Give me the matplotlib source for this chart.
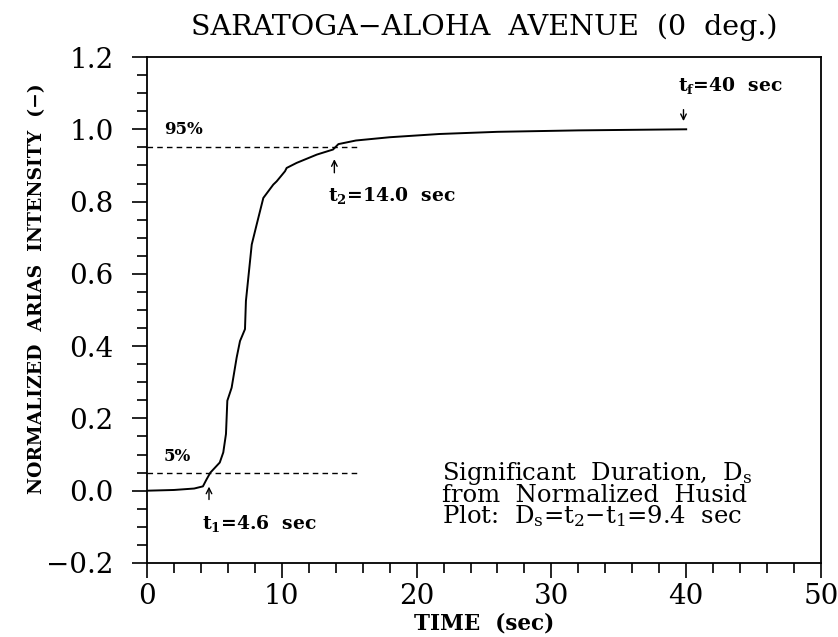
import numpy as np
import matplotlib.pyplot as plt

# normalized Husid plot
time = [0.0, 2.0, 3.5, 4.15, 4.4, 4.7, 5.0, 5.4, 5.66, 5.86, 5.96, 6.28, 6.65, 6.9,
        7.27, 7.34, 7.77, 8.14, 8.63, 9.37, 9.62, 10.24, 10.36, 11.1, 12.6, 13.8,
        14.2, 15.5, 18.0, 21.7, 26.0, 32.0, 40.0]
arias = [0.0, 0.002, 0.006, 0.012, 0.03, 0.05, 0.062, 0.078, 0.106, 0.157, 0.249,
         0.285, 0.368, 0.414, 0.447, 0.525, 0.681, 0.737, 0.810, 0.847, 0.856,
         0.884, 0.893, 0.907, 0.930, 0.944, 0.959, 0.969, 0.978, 0.987, 0.993,
         0.997, 1.0]

t1, t2, tf = 4.6, 14.0, 40.0
dash_end = 15.6

plt.rcParams["mathtext.fontset"] = "dejavuserif"
fig = plt.figure(figsize=(8.38, 6.37), dpi=100)
ax = fig.add_axes([0.1754, 0.1162, 0.8043, 0.7943])

ax.plot(time, arias, color="black", lw=1.4)
ax.plot([0, dash_end], [0.95, 0.95], color="black", lw=1, ls=(0, (4, 3)))
ax.plot([0, dash_end], [0.05, 0.05], color="black", lw=1, ls=(0, (4, 3)))

ax.set_xlim(0, 50)
ax.set_ylim(-0.2, 1.2)
ax.set_xticks(np.arange(0, 51, 10))
ax.set_xticks(np.arange(0, 51, 2), minor=True)
yt = np.arange(-0.2, 1.21, 0.2)
ax.set_yticks(yt)
ax.set_yticks(np.arange(-0.2, 1.21, 0.05), minor=True)
ax.set_yticklabels([f"{v:.1f}".replace("-", "\u2212") for v in yt])
ax.tick_params(which="both", direction="out", top=False, right=False,
               labelsize=20, width=1.2)
ax.tick_params(which="major", length=11)
ax.tick_params(which="minor", length=7)
ax.tick_params(axis="y", which="major", pad=13)
ax.tick_params(axis="x", which="major", pad=3.5)
for lab in ax.get_xticklabels() + ax.get_yticklabels():
    lab.set_family("DejaVu Serif")
for s in ax.spines.values():
    s.set_linewidth(1.3)

ann = dict(family="DejaVu Serif", fontweight="bold", fontsize=12)
ax.text(1.3, 1.0, "95%", va="center", **ann)
ax.text(1.2, 0.094, "5%", va="center", **ann)
ax.annotate("", xy=(t2 - 0.1, 0.925), xytext=(t2 - 0.1, 0.872),
            arrowprops=dict(arrowstyle="->", color="black", lw=1))
ax.text(13.4, 0.818, r"t$_\mathbf{2}$=14.0  sec", va="center",
        **{**ann, "fontsize": 13.5})
ax.annotate("", xy=(t1, 0.019), xytext=(t1, -0.032),
            arrowprops=dict(arrowstyle="->", color="black", lw=1))
ax.text(4.05, -0.091, r"t$_\mathbf{1}$=4.6  sec", va="center",
        **{**ann, "fontsize": 13.5})
ax.annotate("", xy=(tf - 0.2, 1.015), xytext=(tf - 0.2, 1.062),
            arrowprops=dict(arrowstyle="->", color="black", lw=1))
ax.text(39.4, 1.12, r"t$_\mathbf{f}$=40  sec", va="center",
        **{**ann, "fontsize": 13.5})

ax.text(21.85, -0.089, "Significant  Duration,  D$_\\mathrm{s}$\n"
        "from  Normalized  Husid\n"
        "Plot:  D$_\\mathrm{s}$=t$_\\mathrm{2}$\u2212t$_\\mathrm{1}$=9.4  sec",
        va="baseline", family="DejaVu Serif", fontsize=17.5, linespacing=0.8)

ax.set_xlabel("TIME  (sec)", family="DejaVu Serif", fontweight="bold",
              fontsize=15.5, labelpad=2)
ax.set_ylabel("NORMALIZED  ARIAS  INTENSITY  (\u2212)", family="DejaVu Serif",
              fontweight="bold", fontsize=13.5)
ax.yaxis.set_label_coords(-0.15, 0.542)
ax.set_title("SARATOGA\u2212ALOHA  AVENUE  (0  deg.)", family="DejaVu Serif",
             fontsize=20.5, pad=16)

fig.savefig("out.png", dpi=100)
